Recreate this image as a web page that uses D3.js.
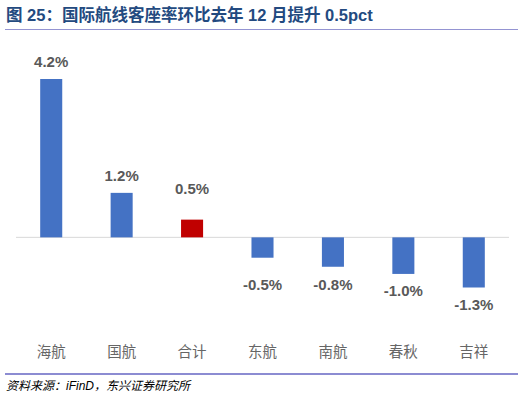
<!DOCTYPE html>
<html>
<head>
<meta charset="utf-8">
<script src="https://cdn.jsdelivr.net/npm/d3@7"></script>
<style>
  body { margin: 0; background: #fff; }
  svg { display: block; font-family: "Liberation Sans", Arial, "Noto Sans CJK SC", sans-serif; }
</style>
</head>
<body>
<div id="chart"></div>
<script>
// airlines on the x axis
const categories = ["海航", "国航", "合计", "东航", "南航", "春秋", "吉祥"];
// change in international load factor, pct
const values = [4.2, 1.18, 0.47, -0.54, -0.78, -0.97, -1.33];
// the total bar is highlighted
const highlight = ["合计"];

const titleText = "图 25：国际航线客座率环比去年 12 月提升 0.5pct";
const sourceText = "资料来源：iFinD，东兴证券研究所";

const width = 526, height = 402;
const svg = d3.select("#chart").append("svg")
  .attr("width", width)
  .attr("height", height);

// title
svg.append("text")
  .attr("x", 6)
  .attr("y", 21)
  .attr("fill", "#234a80")
  .attr("font-size", 16.5)
  .attr("font-weight", "bold")
  .text(titleText);

svg.append("line")
  .attr("x1", 5).attr("x2", 518)
  .attr("y1", 29.5).attr("y2", 29.5)
  .attr("stroke", "#9494d2")
  .attr("stroke-width", 1.2);

// scales
const x = d3.scaleBand()
  .domain(categories)
  .range([16, 509])
  .paddingInner(0.687)
  .paddingOuter(0.3435);

const y = d3.scaleLinear()
  .domain([-1.33, 4.2])
  .range([287.5, 79]);

const zeroY = y(0);

// zero line
svg.append("line")
  .attr("x1", 16).attr("x2", 509)
  .attr("y1", zeroY).attr("y2", zeroY)
  .attr("stroke", "#d9d9d9")
  .attr("stroke-width", 1);

const data = categories.map((c, i) => ({ name: c, value: values[i] }));

svg.append("g")
  .selectAll("rect")
  .data(data)
  .join("rect")
  .attr("x", d => x(d.name))
  .attr("width", x.bandwidth())
  .attr("y", d => Math.min(y(d.value), zeroY))
  .attr("height", d => Math.abs(y(d.value) - zeroY))
  .attr("fill", d => highlight.includes(d.name) ? "#c00000" : "#4472c4");

// value labels, kept clear of the zero line
svg.append("g")
  .selectAll("text")
  .data(data)
  .join("text")
  .attr("x", d => x(d.name) + x.bandwidth() / 2)
  .attr("y", d => {
    const off = Math.max(Math.abs(y(d.value) - zeroY) + 17, 48);
    return (d.value >= 0 ? zeroY - off : zeroY + off) + 5;
  })
  .attr("text-anchor", "middle")
  .attr("fill", "#595959")
  .attr("font-size", 15)
  .attr("font-weight", "bold")
  .text(d => d.value.toFixed(1) + "%");

// category labels
svg.append("g")
  .selectAll("text")
  .data(categories)
  .join("text")
  .attr("x", d => x(d) + x.bandwidth() / 2)
  .attr("y", 357)
  .attr("text-anchor", "middle")
  .attr("fill", "#666666")
  .attr("font-size", 14.5)
  .text(d => d);

// footer
svg.append("line")
  .attr("x1", 5).attr("x2", 518)
  .attr("y1", 374).attr("y2", 374)
  .attr("stroke", "#1a1aa6")
  .attr("stroke-width", 1.2);

svg.append("text")
  .attr("x", 6)
  .attr("y", 390)
  .attr("fill", "#000")
  .attr("font-size", 12)
  .attr("font-style", "italic")
  .text(sourceText);
</script>
</body>
</html>
